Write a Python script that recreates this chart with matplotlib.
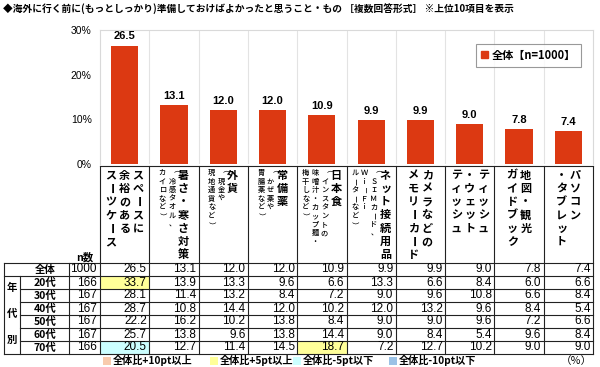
import numpy as np
import matplotlib.pyplot as plt
from matplotlib.patches import Rectangle, Patch

plt.rcParams['font.family'] = ['Noto Sans CJK JP', 'DejaVu Sans']

title = '◆海外に行く前に(もっとしっかり)準備しておけばよかったと思うこと・もの ［複数回答形式］ ※上位10項目を表示'

# Header text of each item, columns read right to left
main_cols = [
    ['スペースに', '余裕のある', 'スーツケース'],
    ['暑さ・寒さ対策'],
    ['外貨'],
    ['常備薬'],
    ['日本食'],
    ['ネット接続用品'],
    ['カメラなどの', 'メモリーカード'],
    ['ティッシュ', '・ウェット', 'ティッシュ'],
    ['地図・観光', 'ガイドブック'],
    ['パソコン', '・タブレット'],
]
note_cols = [
    [],
    ['（冷感タオル、', 'カイロなど）'],
    ['（現金や', '現地通貨など）'],
    ['（かぜ薬や', '胃腸薬など）'],
    ['（インスタントの', '味噌汁・カップ麺・', '梅干しなど）'],
    ['（ＳＩＭカード、', 'Ｗｉ－Ｆｉ', 'ルーターなど）'],
    [], [], [], [],
]

row_labels = ['全体', '20代', '30代', '40代', '50代', '60代', '70代']
n_counts = [1000, 166, 167, 167, 167, 167, 166]
total = [26.5, 13.1, 12.0, 12.0, 10.9, 9.9, 9.9, 9.0, 7.8, 7.4]
age20 = [33.7, 13.9, 13.3, 9.6, 6.6, 13.3, 6.6, 8.4, 6.0, 6.6]
age30 = [28.1, 11.4, 13.2, 8.4, 7.2, 9.0, 9.6, 10.8, 6.6, 8.4]
age40 = [28.7, 10.8, 14.4, 12.0, 10.2, 12.0, 13.2, 9.6, 8.4, 5.4]
age50 = [22.2, 16.2, 10.2, 13.8, 8.4, 9.0, 9.0, 9.6, 7.2, 6.6]
age60 = [25.7, 13.8, 9.6, 13.8, 14.4, 9.0, 8.4, 5.4, 9.6, 8.4]
age70 = [20.5, 12.7, 11.4, 14.5, 18.7, 7.2, 12.7, 10.2, 9.0, 9.0]
rows = [total, age20, age30, age40, age50, age60, age70]

legend_labels = ['全体比+10pt以上', '全体比+5pt以上', '全体比-5pt以下', '全体比-10pt以下']
legend_colors = ['#F8CBAD', '#FFFF99', '#CCFFFF', '#9BC2E6']

W, H = 600, 367
fig = plt.figure(figsize=(6, 3.67), dpi=100)

# pixel layout
x0, x1 = 100, 593
cw = (x1 - x0) / len(total)
y_top, y_base = 30, 164

# ---- bar chart ----
ax = fig.add_axes([x0 / W, 1 - y_base / H, (x1 - x0) / W, (y_base - y_top) / H])
xs = np.arange(len(total))
bars = ax.bar(xs, total, width=0.55, color='#DC3912', zorder=3)
for b, v in zip(bars, total):
    ax.annotate(f'{v:.1f}', (b.get_x() + b.get_width() / 2, v), xytext=(0, 3),
                textcoords='offset points', ha='center', va='bottom',
                fontsize=8, family='Liberation Sans', fontweight='bold')
ax.set_xlim(-0.5, len(total) - 0.5)
ax.set_ylim(0, 30)
ax.set_yticks([0, 10, 20, 30])
ax.set_yticklabels(['0%', '10%', '20%', '30%'], family='Liberation Sans', fontsize=7.5)
ax.set_xticks([])
ax.set_xticks(xs[:-1] + 0.5, minor=True)
ax.tick_params(axis='both', which='both', length=0, pad=6)
ax.grid(True, axis='x', which='minor', color='#E3E3E3', lw=0.8)
for s in ['left', 'top', 'right']:
    ax.spines[s].set_color('#D9D9D9')
ax.spines['bottom'].set_visible(False)
leg = ax.legend([Patch(color='#DC3912')], ['全体【n=1000】'], loc='upper right',
                bbox_to_anchor=(0.986, 0.94), fancybox=False, edgecolor='#808080',
                handlelength=0.6, handleheight=0.6, handletextpad=0.3, borderpad=0.45,
                prop={'size': 8, 'weight': 'bold'})
leg.get_frame().set_linewidth(0.8)

# ---- table, drawn in pixel coordinates ----
t = fig.add_axes([0, 0, 1, 1])
t.set_xlim(0, W)
t.set_ylim(H, 0)
t.axis('off')

edges = [x0 + k * cw for k in range(len(total) + 1)]
h_top, r_top, rh = 166, 263, 13
n_rows = len(rows)
r_bot = r_top + rh * n_rows
lc, lw = '#222222', 0.8

# header grid
t.plot([x0, x1], [h_top, h_top], color=lc, lw=lw)
for e in edges:
    t.plot([e, e], [h_top, r_bot], color=lc, lw=lw)
for xe in [4, 69]:
    t.plot([xe, xe], [r_top, r_bot], color=lc, lw=lw)
t.plot([20, 20], [r_top + rh, r_bot], color=lc, lw=lw)
for k in range(n_rows + 1):
    y = r_top + k * rh
    xl = 4 if k in (0, 1, n_rows) else 20
    t.plot([xl, x1], [y, y], color=lc, lw=lw)

rot_chars = 'ー－（）'


def vcolumn(cx, ystart, step, text, size, bold):
    for j, ch in enumerate(text):
        t.text(cx, ystart + j * step, ch, ha='center', va='center', fontsize=size,
               fontweight='bold' if bold else 'medium',
               rotation=-90 if ch in rot_chars else 0)


for i in range(len(total)):
    cx = x0 + (i + 0.5) * cw
    cols = [(c, True) for c in main_cols[i]] + [(c, False) for c in note_cols[i]]
    widths = [13.5 if big else 9.5 for _, big in cols]
    right = cx + sum(widths) / 2
    for (txt, big), w in zip(cols, widths):
        c = right - w / 2
        if big:
            vcolumn(c, 175, 13.3, txt, 8, True)
        else:
            vcolumn(c, 173, 8.6, txt, 5.2, False)
        right -= w

t.text(85, 257, 'n数', ha='center', va='center', fontsize=7.5, fontweight='bold')

# age group label
for ch, y in zip('年代別', [288, 314, 340]):
    t.text(12, y, ch, ha='center', va='center', fontsize=7.5, fontweight='bold')

base = rows[0]
for r, (lab, n, vals) in enumerate(zip(row_labels, n_counts, rows)):
    yc = r_top + (r + 0.5) * rh
    t.text(45, yc, lab, ha='center', va='center', fontsize=7.5, fontweight='bold')
    t.text(x0 - 3, yc, str(n), ha='right', va='center', fontsize=8.5,
           family='Liberation Sans')
    for i, v in enumerate(vals):
        if r > 0:
            d = v - base[i]
            fill = None
            if d >= 10:
                fill = legend_colors[0]
            elif d >= 5:
                fill = legend_colors[1]
            elif d <= -10:
                fill = legend_colors[3]
            elif d <= -5:
                fill = legend_colors[2]
            if fill:
                t.add_patch(Rectangle((edges[i], r_top + r * rh), cw, rh,
                                      facecolor=fill, edgecolor='none', zorder=0))
        t.text(edges[i + 1] - 2.5, yc, f'{v:.1f}', ha='right', va='center',
               fontsize=8.5, family='Liberation Sans')

# color legend under the table
sq_x = [103, 210, 293, 389]
for sx, lab, col in zip(sq_x, legend_labels, legend_colors):
    t.add_patch(Rectangle((sx, 357), 8, 8, facecolor=col, edgecolor='none'))
    t.text(sx + 10, 361, lab, ha='left', va='center', fontsize=7.3, fontweight='bold')
t.text(592, 361, '（％）', ha='right', va='center', fontsize=7.5)

fig.text(3 / W, 1 - 9 / H, title, ha='left', va='center', fontsize=7, fontweight='bold')

fig.savefig('out.png', dpi=100)
